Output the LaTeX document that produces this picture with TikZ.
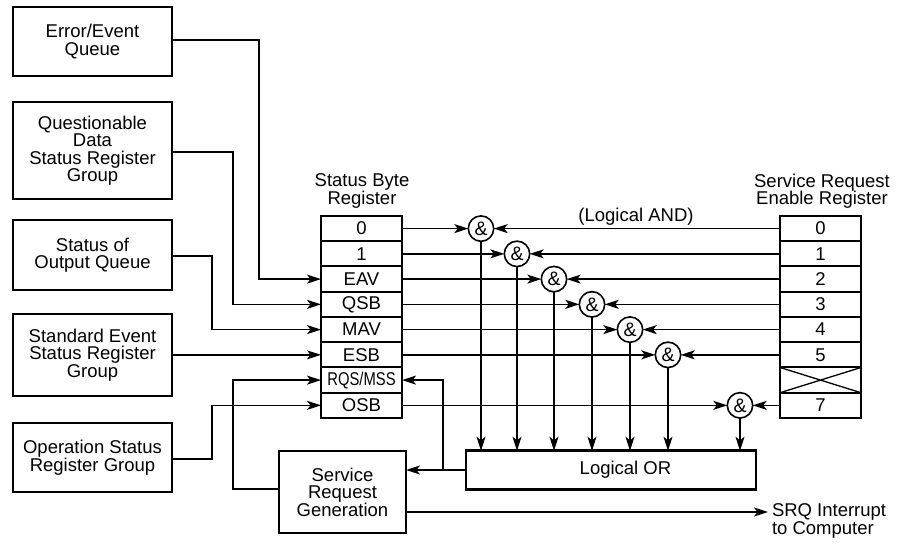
\documentclass[tikz,border=0pt]{standalone}
\usepackage{fontspec}
\setmainfont{Liberation Sans}
\usetikzlibrary{arrows.meta,calc}
\begin{document}
\begin{tikzpicture}[x=1pt,y=-1pt,
  every node/.style={inner sep=0pt,outer sep=0pt},
  txt/.style={font=\fontsize{18.5}{17.5}\selectfont,align=center},
  bigbox/.style={draw,line width=2.8pt,txt,minimum width=159pt},
  regcell/.style={draw,line width=2pt,txt,minimum width=81pt,minimum height=25.25pt},
  gate/.style={draw,circle,line width=1.6pt,minimum size=25.4pt,font=\fontsize{19.5}{19.5}\selectfont},
  conn/.style={line width=1.5pt},
  arr/.style={conn,-{Stealth[length=14pt,width=9pt,inset=3.5pt]}}
]
\useasboundingbox (0,0) rectangle (903,543);
% left boxes
\node[bigbox,minimum height=69pt] (eeq) at (92.5,41.5) {Error/Event\\Queue};
\node[bigbox,minimum height=97pt] (qdr) at (92.5,150.5) {Questionable\\Data\\Status Register\\Group};
\node[bigbox,minimum height=70pt] (soq) at (92.5,255) {Status of\\Output Queue};
\node[bigbox,minimum height=82pt] (ser) at (92.5,355) {Standard Event\\Status Register\\Group};
\node[bigbox,minimum height=69pt] (osr) at (92.5,457.5) {Operation Status\\Register Group};
% status byte register
\foreach \i/\t [count=\k from 0] in {0/0,1/1,2/EAV,3/QSB,4/MAV,5/ESB,6/{\scalebox{0.8}[1]{RQS/MSS}},7/OSB}{
  \node[regcell] (sb\i) at (361.5,{228.6+25.25*\k}) {\t};
}
\node[txt] (sbt) at (362,191) {Status Byte\\Register};
% service request enable register
\foreach \i/\t [count=\k from 0] in {0/0,1/1,2/2,3/3,4/4,5/5,6/{},7/7}{
  \node[regcell] (se\i) at (820.5,{228.6+25.25*\k}) {\t};
}
\draw[line width=1.3pt] (se6.north west) -- (se6.south east) (se6.south west) -- (se6.north east);
\node[txt] (set) at (822,191) {Service Request\\Enable Register};
\node[txt] (land) at (636,217) {(Logical AND)};
% gates
\foreach \i/\x in {0/481,1/517,2/554,3/592,4/630,5/668,7/740}{
  \node[gate] (g\i) at (\x,0 |- sb\i.center) {\&};
}
% OR and SRG
\node[draw,line width=2.8pt,minimum width=290pt,minimum height=38.5pt] (lor) at (611,470) {};
\node[txt] (lort) at (625.5,470) {Logical OR};
\node[draw,line width=2.8pt,txt,minimum width=127pt,minimum height=82pt] (srg) at (342.5,492) {Service\\Request\\Generation};
\node[txt,align=left,anchor=west] (srq) at (772,521) {SRQ Interrupt\\to Computer};
% gate connections
\foreach \i in {0,1,2,3,4,5,7}{
  \draw[arr] (sb\i.east) -- (g\i.west);
  \draw[arr] (se\i.west) -- (g\i.east);
  \draw[arr] (g\i.south) -- (g\i.south |- lor.north);
}
% left inputs
\draw[arr] (eeq.east |- 0,40) -- (259,40) -- (259,0 |- sb2.west) -- (sb2.west);
\draw[arr] (qdr.east |- 0,152) -- (233,152) -- (233,0 |- sb3.west) -- (sb3.west);
\draw[arr] (soq.east |- 0,256) -- (212,256) -- (212,0 |- sb4.west) -- (sb4.west);
\draw[arr] (ser.east |- sb5.west) -- (sb5.west);
\draw[arr] (osr.east |- 0,459) -- (212,459) -- (212,0 |- sb7.west) -- (sb7.west);
% SRG and OR
\coordinate (br) at (443,470);
\draw[arr] (lor.west |- br) -- (srg.east |- br);
\draw[arr] (br) -- (443,0 |- sb6.east) -- (sb6.east);
\draw[arr] (srg.west |- 0,489) -- (233,489) -- (233,0 |- sb6.west) -- (sb6.west);
\coordinate (srqend) at (768,512);
\draw[arr] (srg.east |- srqend) -- (srqend);
\end{tikzpicture}
\end{document}
